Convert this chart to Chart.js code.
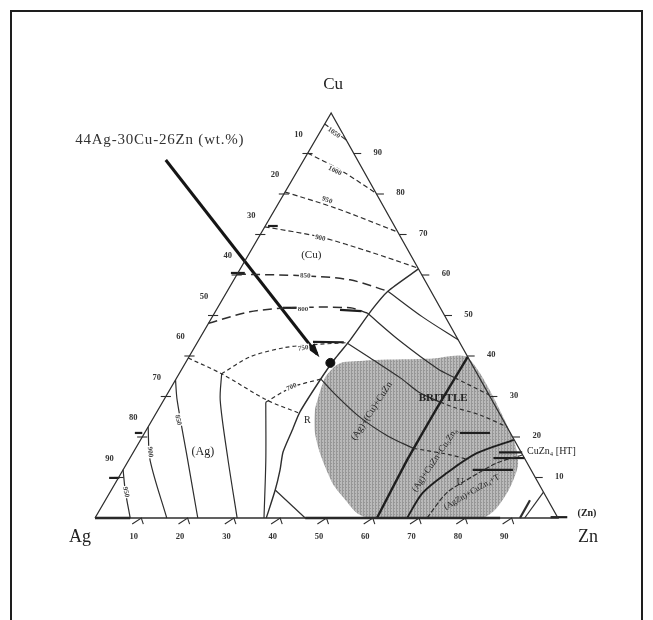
<!DOCTYPE html>
<html>
<head>
<meta charset="utf-8">
<title>Ag-Cu-Zn liquidus projection</title>
<script src="https://cdn.jsdelivr.net/npm/chart.js@4.4.0/dist/chart.umd.min.js"></script>
<style>
  html, body { margin: 0; padding: 0; background: #fff; overflow: hidden; }
  #frame {
    position: absolute; left: 10px; top: 10px; width: 629px; height: 640px;
    border: 2px solid #1e1e1e; border-bottom: none;
  }
  #wrap { position: absolute; left: 0; top: 0; width: 653px; height: 620px; }
</style>
</head>
<body>
<div id="frame"></div>
<div id="wrap"><canvas id="diagram" width="653" height="620"></canvas></div>
<script>
/* data: every point is a composition [Zn wt.%, Cu wt.%] */

const tickValues = [10, 20, 30, 40, 50, 60, 70, 80, 90];

const triangle = [[0, 0], [100, 0], [0, 100], [0, 0]];

// liquidus isotherms in the (Cu) field
const iso1050 = [[0, 97.3], [6.7, 93.3]];
const iso1000 = [[0, 90.1], [9, 86], [19.8, 80.2]];
const iso950 = [[0, 80.5], [13, 76.5], [29.4, 70.6]];
const iso900 = [[0, 71.9], [13.2, 69.4], [25.9, 65.7], [38.3, 61.7]];
const iso850 = [[0, 60.2], [14.9, 59.8], [25.1, 58.8], [34.7, 56]];
const iso800 = [[0, 48.1], [7.5, 50.9], [15.6, 51.9], [28.6, 51.9], [33, 50.6]];
const iso750 = [[9.2, 35.6], [13.2, 39.8], [19.2, 42], [24, 42.7], [32.5, 43.3]];
const iso700 = [[22.3, 28.6], [26.1, 32.3], [31.2, 34.3]];
const valleyCuAg = [[0, 39.5], [9.2, 35.6], [22.3, 29.1], [30.6, 26]];

// (Cu) / CuZn boundary
const boundaryCuBeta = [[38.5, 61.5], [34.7, 56], [33.6, 51.5], [32.7, 44], [31.8, 39.5],
  [31.3, 35], [30.9, 26.2], [31.5, 22], [32.3, 16.3], [33.9, 11.9], [35.4, 6.9], [37, 0]];
const boundaryLow = [[35.4, 6.9], [45.4, 0]];

// isotherms in the CuZn field
const iso850Beta = [[34.7, 56], [45.5, 49.6], [56, 44]];
const iso800Beta = [[33, 50.6], [43.6, 43.7], [55.3, 36.8], [60.1, 34.6]];
const iso800Far = [[60.1, 34.6], [69.6, 30.4]];
const iso750Beta = [[32.4, 43.2], [39.3, 39.5], [48.3, 34.6], [54.4, 30.9], [60, 28.6]];
const iso750Far = [[60, 28.6], [63.3, 27.4], [70, 25.5], [77.5, 22.5]];
const iso700Beta = [[31.3, 34.3], [35.8, 30.9], [44.5, 24.9], [53, 20.2], [60, 17.2]];
const iso700Far = [[60, 17.2], [68.8, 15.6], [73.3, 14.4]];

// isotherms in the (Ag) field
const agIso950 = [[0, 11.9], [3, 6.9], [7.6, 0]];
const agIso900 = [[0, 22.5], [4.6, 14.3], [15.5, 0]];
const agIso850 = [[0, 34.1], [2.9, 29.1], [12.4, 14.8], [22.2, 0]];
const agIso800 = [[9.2, 35.6], [12.2, 29.1], [21, 15], [30.7, 0]];
const agIso750 = [[22.3, 28.6], [29.6, 14.3], [36.5, 0]];

// heavy boundaries on the zinc side
const boundaryBetaGamma = [[60.2, 39.8], [60, 27.2], [60.1, 14.3], [60.9, 0]];
const boundaryGammaEps = [[67.4, 0], [67.6, 6.2], [70.3, 11.1], [74.3, 16], [80.6, 19.3]];
const boundaryEps = [[71.7, 0], [72.8, 6.2], [75.5, 9.4], [79.9, 13.6], [84.4, 15.6]];
const zincSideLine = [[93.6, 6.4], [92.8, 0]];
const zincSideBold = [[91.7, 4.4], [91.8, 0]];

const boldBase = [[[0, 0], [7.6, 0]], [[45.4, 0], [87.5, 0]]];

const shortBars = [
  [[0.6, 72.1], [2.7, 72.1]], [[-1.5, 60.5], [1.5, 60.5]], [[14.1, 51.9], [17.1, 51.9]],
  [[26.7, 51.4], [31.5, 51.1]], [[24.9, 43.5], [31.6, 43.4]], [[-2.1, 21], [-0.5, 21]],
  [[-2, 9.9], [0.2, 9.9]], [[68.1, 21], [74.6, 21]], [[79, 16.2], [84, 16.2]],
  [[78.5, 14.8], [85.2, 14.8]], [[75.5, 11.9], [84.2, 11.9]], [[98.3, 0.2], [101.9, 0.2]]
];

// shaded brittle composition range
const brittleRegion = [[34, 38.5], [40.6, 39], [52.4, 39.3], [60.5, 39.5], [80, 20], [84.6, 13.3],
  [85.8, 7.4], [85.5, 2.5], [83.6, 0], [59.4, 0], [56, 1.2], [50.9, 5.2], [47.1, 8.4], [41, 15.3],
  [36.8, 21], [33.9, 26.7], [33, 29.9], [32, 34.8], [32.7, 37.5], [34, 38.5]];

// the alloy and its call-out arrow
const alloyPoint = [[31.3, 38.3]];
const arrowLine = [[-29.8, 88.4], [27.3, 40.5]];
const alloyLabel = "44Ag-30Cu-26Zn (wt.%)";

const labels = [
  { text: "(Cu)", at: [13.6, 64.9], size: 11 },
  { text: "(Ag)", at: [15, 16.3], size: 12 },
  { text: "R", at: [33.5, 24.2], size: 10 },
  { text: "BRITTLE", at: [60.1, 29.6], size: 11, bold: true },
  { text: "U", at: [74.3, 8.9], size: 10 },
  { text: "CuZn\u2084 [HT]", at: [84.9, 16.5], size: 10, align: "left" },
  { text: "(Ag)+(Cu)+CuZn", at: [46.3, 26.4], size: 9.5, angle: -57 },
  { text: "(Ag)+CuZn+Cu\u2085Zn\u2088", at: [66.1, 14.3], size: 9, angle: -56 },
  { text: "(AgZn)+CuZn\u2084+T", at: [78.1, 6.4], size: 8.5, angle: -30 }
];

const tempLabels = [
  { text: "1050", at: [3.1, 95.1], angle: 35 },
  { text: "1000", at: [8.1, 85.7], angle: 27 },
  { text: "950", at: [10.1, 78.5], angle: 20 },
  { text: "900", at: [13.4, 69.1], angle: 12 },
  { text: "850", at: [14.9, 59.8], angle: 2 },
  { text: "800", at: [18.6, 51.6], angle: 0 },
  { text: "750", at: [23.6, 41.9], angle: -8 },
  { text: "700", at: [26, 32.3], angle: -25 },
  { text: "850", at: [5.6, 24.2], angle: 78 },
  { text: "900", at: [3.6, 16.3], angle: 82 },
  { text: "950", at: [3.4, 6.4], angle: 78 }
];

/* helpers */

const SKEW = 0.51;   // the scanned triangle leans a little to the right
const toXY = ([zn, cu]) => ({ x: zn + SKEW * cu, y: cu });

const INK = "#2e2e2e";
const SERIF = '"Liberation Serif", "DejaVu Serif", serif';

const datasets = [];

function addLine(points, style = {}) {
  datasets.push({
    data: points.map(toXY),
    showLine: true,
    pointRadius: 0,
    pointHoverRadius: 0,
    borderColor: style.color || INK,
    borderWidth: style.width || 1.2,
    borderDash: style.dash || [],
    tension: style.tension ?? 0.3,
    fill: false,
    clip: false,
    order: style.order ?? 1
  });
}

/* stippled grey fill like the printed screen */

const patternCanvas = document.createElement("canvas");
patternCanvas.width = 3;
patternCanvas.height = 3;
const pctx = patternCanvas.getContext("2d");
pctx.fillStyle = "#bababa";
pctx.fillRect(0, 0, 3, 3);
pctx.fillStyle = "#979797";
pctx.fillRect(0, 0, 1, 3);
pctx.fillRect(1, 1, 1, 1);
const greyPattern = pctx.createPattern(patternCanvas, "repeat");

datasets.push({
  data: brittleRegion.map(toXY),
  showLine: true,
  pointRadius: 0,
  borderWidth: 0,
  backgroundColor: greyPattern,
  fill: "shape",
  tension: 0.25,
  clip: false,
  order: 20
});

/* lines */

addLine(triangle, { width: 1.3, tension: 0 });
boldBase.forEach(seg => addLine(seg, { width: 2.6, tension: 0, color: "#1e1e1e" }));

addLine(iso1050, { tension: 0 });
addLine(iso1000, { dash: [5, 3] });
addLine(iso950, { dash: [5, 3] });
addLine(iso900, { dash: [5, 3] });
addLine(iso850, { dash: [9, 5], width: 1.5 });
addLine(iso800, { dash: [9, 5], width: 1.5 });
addLine(iso750, { dash: [4, 3] });
addLine(iso700, { dash: [4, 3] });
addLine(valleyCuAg, { dash: [4, 3] });

addLine(boundaryCuBeta, { width: 1.4, tension: 0.2 });
addLine(boundaryLow, { tension: 0 });

addLine(iso850Beta);
addLine(iso800Beta);
addLine(iso800Far, { dash: [4, 3] });
addLine(iso750Beta);
addLine(iso750Far, { dash: [4, 3] });
addLine(iso700Beta);
addLine(iso700Far, { dash: [4, 3] });

addLine(agIso950);
addLine(agIso900);
addLine(agIso850);
addLine(agIso800);
addLine(agIso750);

addLine(boundaryBetaGamma, { width: 2.4, color: "#1e1e1e", tension: 0.1 });
addLine(boundaryGammaEps, { width: 1.9, color: "#1e1e1e" });
addLine(boundaryEps, { width: 1.2, dash: [5, 2] });
addLine(zincSideLine, { tension: 0 });
addLine(zincSideBold, { width: 2.2, tension: 0 });

shortBars.forEach(bar => addLine(bar, { width: 2.2, tension: 0, color: "#1e1e1e" }));

// tick marks on the three sides
tickValues.forEach(v => {
  addLine([[v - 1.2, -1.5], [v, 0], [v + 1.2, -1.5]], { tension: 0, width: 1.1 });
  addLine([[-1.1, 100 - v], [1.1, 100 - v]], { tension: 0, width: 1.1 });
  addLine([[100 - v, v], [100 - v + 1.6, v]], { tension: 0, width: 1.1 });
});

addLine(arrowLine, { width: 3, tension: 0, color: "#151515" });

datasets.push({
  data: alloyPoint.map(toXY),
  showLine: false,
  pointRadius: 4.5,
  pointHoverRadius: 4.5,
  pointBackgroundColor: "#111",
  pointBorderColor: "#111",
  clip: false,
  order: 0
});

/* text and arrowhead */

function drawText(ctx, text, X, Y, opt) {
  ctx.save();
  ctx.translate(X, Y);
  ctx.rotate((opt.angle || 0) * Math.PI / 180);
  ctx.font = opt.font;
  ctx.textAlign = opt.align || "center";
  ctx.textBaseline = "middle";
  if (opt.spacing) ctx.letterSpacing = opt.spacing;
  if (opt.halo) {
    const w = ctx.measureText(text).width;
    ctx.fillStyle = "#fff";
    ctx.fillRect(-w / 2 - 1, -4, w + 2, 8);
  }
  ctx.fillStyle = opt.color || "#222";
  ctx.fillText(text, 0, 0);
  ctx.restore();
}

const ternaryText = {
  id: "ternaryText",
  afterDatasetsDraw(chart) {
    const { ctx, scales: { x, y } } = chart;
    const pix = p => {
      const q = toXY(p);
      return [x.getPixelForValue(q.x), y.getPixelForValue(q.y)];
    };

    // arrowhead
    const [x0, y0] = pix(arrowLine[0]);
    const [x1, y1] = pix(arrowLine[1]);
    const a = Math.atan2(y1 - y0, x1 - x0);
    ctx.save();
    ctx.fillStyle = "#151515";
    ctx.beginPath();
    ctx.moveTo(x1 + 4 * Math.cos(a), y1 + 4 * Math.sin(a));
    ctx.lineTo(x1 - 10 * Math.cos(a) + 4.5 * Math.sin(a), y1 - 10 * Math.sin(a) - 4.5 * Math.cos(a));
    ctx.lineTo(x1 - 10 * Math.cos(a) - 4.5 * Math.sin(a), y1 - 10 * Math.sin(a) + 4.5 * Math.cos(a));
    ctx.closePath();
    ctx.fill();
    ctx.restore();

    // tick labels
    const tickFont = `bold 8.5px ${SERIF}`;
    tickValues.forEach(v => {
      const [bx, by] = pix([v, 0]);
      drawText(ctx, String(v), bx - 7.5, by + 19, { font: tickFont, color: "#333" });
      const [lx, ly] = pix([0, 100 - v]);
      drawText(ctx, String(v), lx - 9, ly - 19, { font: tickFont, color: "#333" });
      const [rx, ry] = pix([100 - v, v]);
      drawText(ctx, String(v), rx + 24, ry - 1, { font: tickFont, color: "#333" });
    });

    // corner labels
    const [cx, cy] = pix([0, 100]);
    const [ax, ay] = pix([0, 0]);
    const [zx, zy] = pix([100, 0]);
    drawText(ctx, "Cu", cx + 2, cy - 28, { font: `17px ${SERIF}` });
    drawText(ctx, "Ag", ax - 15, ay + 19, { font: `18px ${SERIF}` });
    drawText(ctx, "Zn", zx + 30, zy + 19, { font: `18px ${SERIF}` });
    drawText(ctx, "(Zn)", zx + 29, zy - 5, { font: `bold 10px ${SERIF}` });

    // call-out label
    const [tx, ty] = pix(arrowLine[0]);
    drawText(ctx, alloyLabel, tx - 6, ty - 20, { font: `15px ${SERIF}`, color: "#333", spacing: "0.8px" });

    labels.forEach(l => {
      const [lx, ly] = pix(l.at);
      drawText(ctx, l.text, lx, ly, {
        font: `${l.bold ? "bold " : ""}${l.size}px ${SERIF}`,
        angle: l.angle || 0,
        align: l.align || "center"
      });
    });

    tempLabels.forEach(l => {
      const [lx, ly] = pix(l.at);
      drawText(ctx, l.text, lx, ly, {
        font: `bold 7px ${SERIF}`, angle: l.angle, halo: true, color: "#444"
      });
    });
  }
};

new Chart(document.querySelector("#diagram"), {
  type: "scatter",
  data: { datasets },
  options: {
    responsive: false,
    animation: false,
    events: [],
    devicePixelRatio: 1,
    layout: { padding: { left: 95, right: 95, top: 113, bottom: 102 } },
    scales: {
      x: { type: "linear", min: 0, max: 100, display: false },
      y: { type: "linear", min: 0, max: 100, display: false }
    },
    plugins: {
      legend: { display: false },
      tooltip: { enabled: false }
    }
  },
  plugins: [ternaryText]
});
</script>
</body>
</html>
